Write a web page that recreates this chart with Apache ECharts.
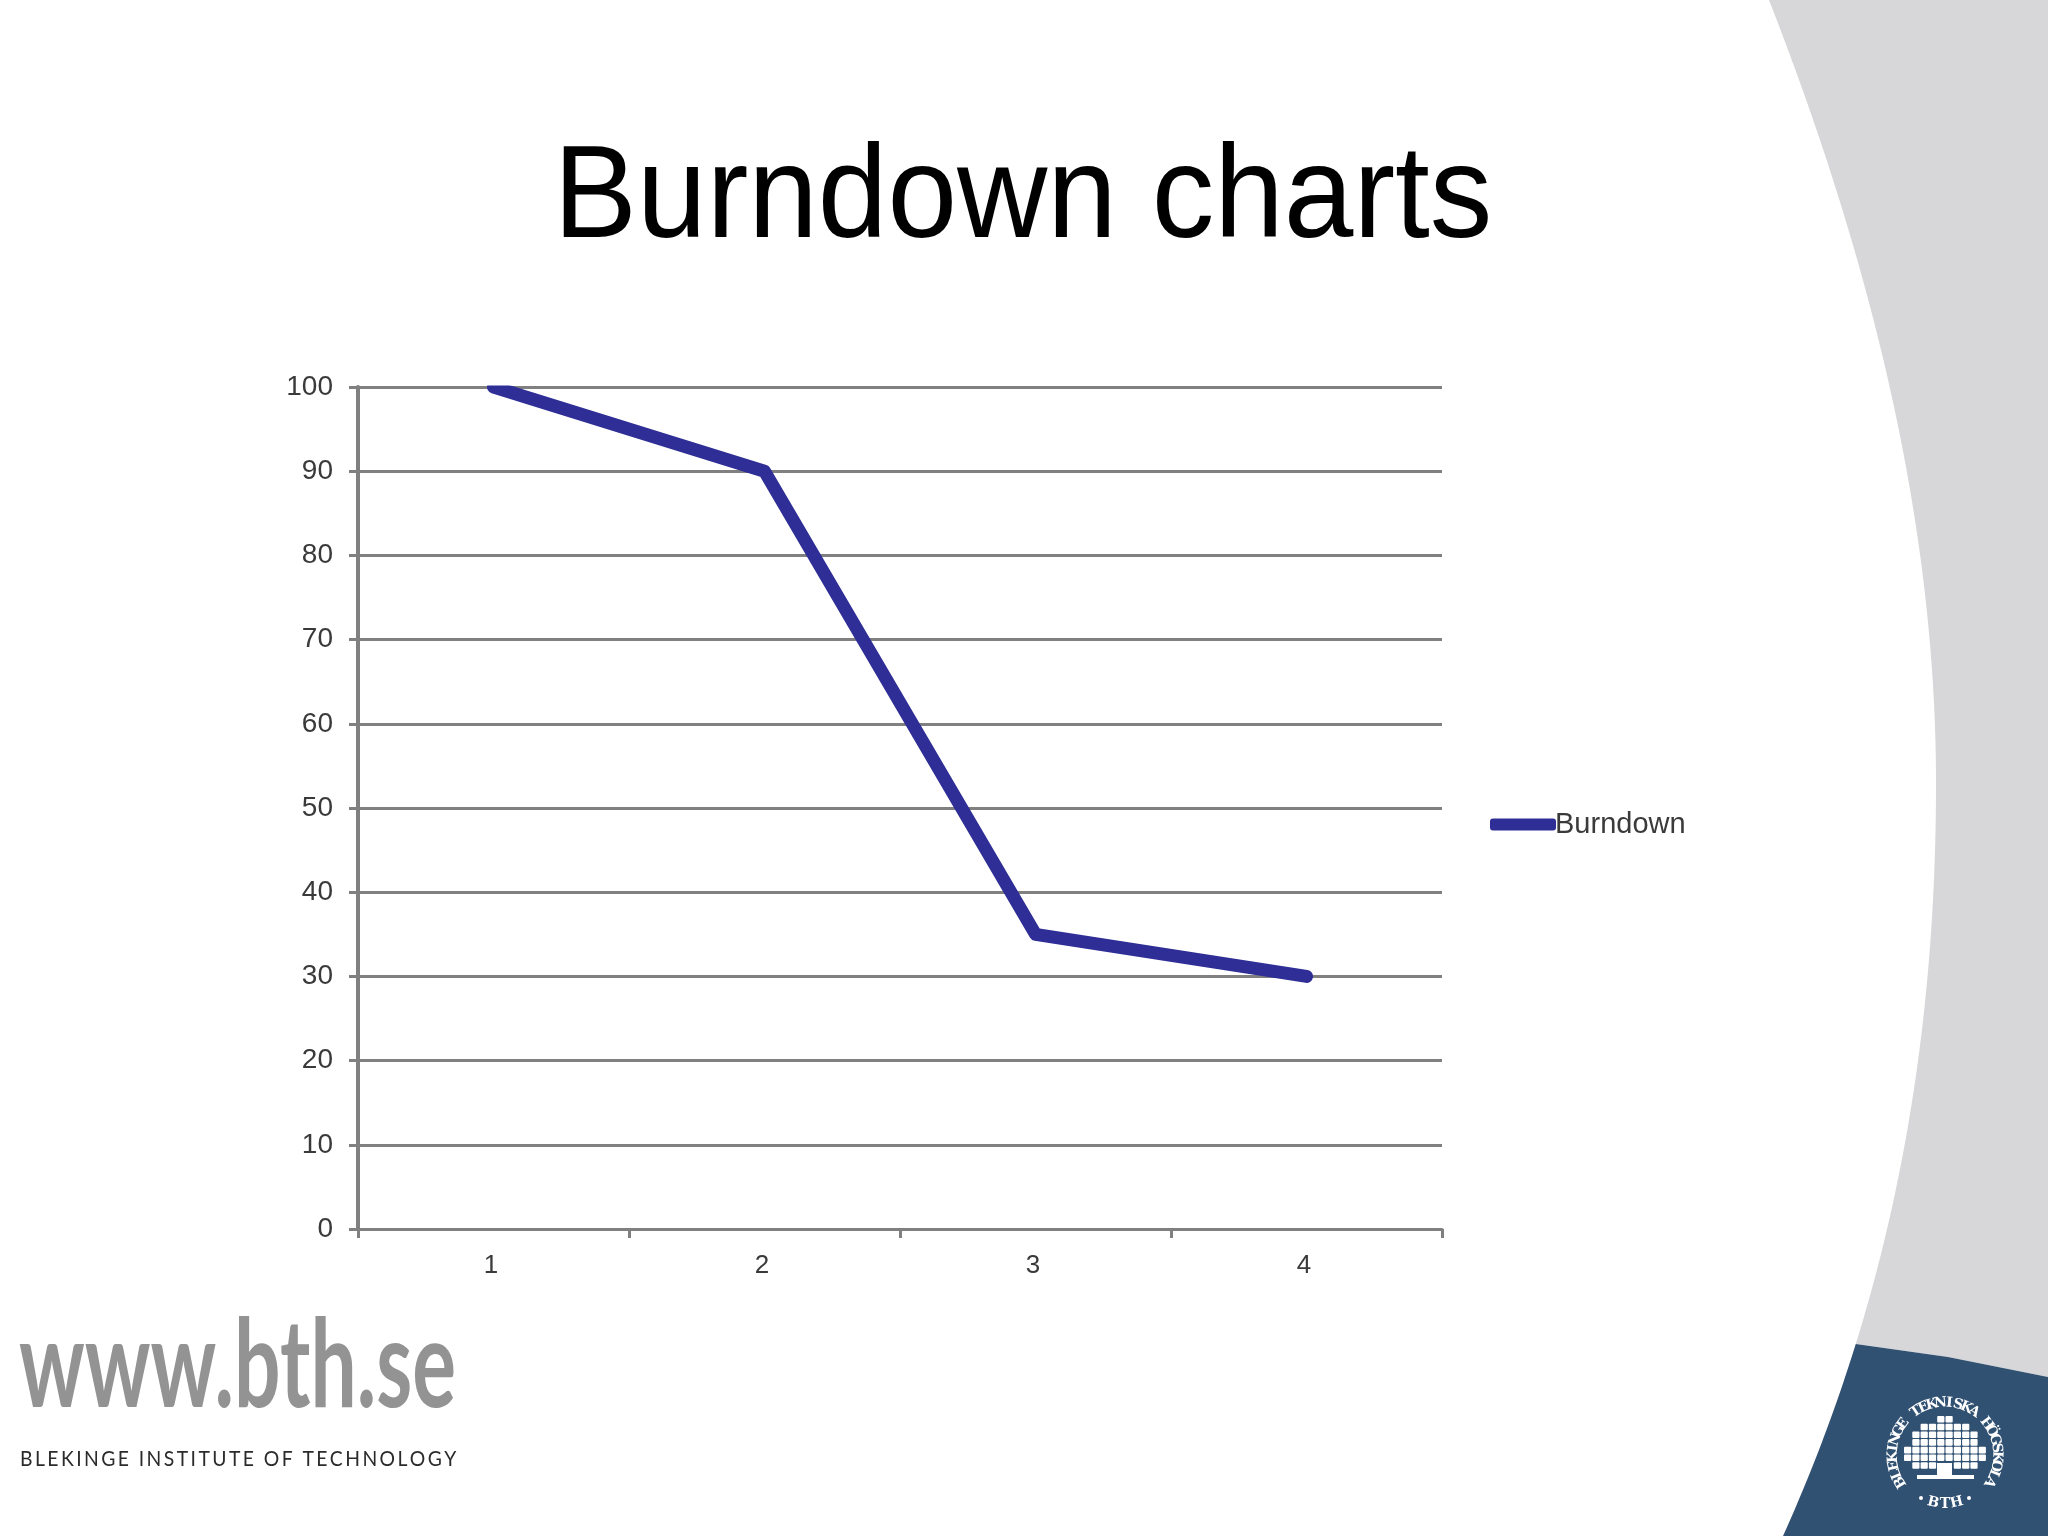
<!DOCTYPE html>
<html><head><meta charset="utf-8">
<style>html,body{margin:0;padding:0;background:#fff}#c{width:2048px;height:1536px}</style>
<script src="https://cdn.jsdelivr.net/npm/echarts@6/dist/echarts.min.js"></script>
</head><body><div id="c"></div>
<script>
const titleText = 'Burndown charts';
const seriesName = 'Burndown';
const categories = ['1','2','3','4'];
const burndown = [100,90,35,30];
const yMin = 0, yMax = 100, yStep = 10;
const logoText = 'www.bth.se';
const logoSub = 'BLEKINGE INSTITUTE OF TECHNOLOGY';
const sealTop = 'BLEKINGE TEKNISKA HÖGSKOLA';
const sealBottom = 'BTH';
const treeRows = [2,6,8,8,10,10,8];

const GREY='#d7d7d9', BLUE='#315172', AXIS='#808080', LINE='#2e2e96';
function bez(p0,p1,p2,p3,steps){const o=[];for(let k=0;k<=steps;k++){const t=k/steps,u=1-t;
 o.push([0,1].map(j=>u*u*u*p0[j]+3*u*u*t*p1[j]+3*u*t*t*p2[j]+t*t*t*p3[j]));}return o;}
const edge=bez([1769,0],[1871,261],[1936,523],[1936,783],200).concat(bez([1936,783],[1936,1034],[1896,1285],[1783,1536],200).slice(1));
const iCorner=edge.findIndex(q=>q[1]>=1342);
const blueTop=[[1948,1357],[2048,1377]];
const g=[];
g.push({type:'polygon',z:-5,silent:true,shape:{points:edge.slice(0,iCorner+1).concat(blueTop,[[2048,0]])},style:{fill:GREY}});
g.push({type:'polygon',z:-4,silent:true,shape:{points:edge.slice(iCorner).concat([[2048,1536]],blueTop.slice().reverse())},style:{fill:BLUE}});
// mask that trims the thick line at the plot's top edge, as in the reference
g.push({type:'rect',z:9,silent:true,shape:{x:440,y:368,width:110,height:17.5},style:{fill:'#fff'}});
// title
g.push({type:'text',z:5,x:1023,y:266,scaleX:.955,style:{text:titleText,font:'131px "Liberation Sans"',fill:'#000',align:'center',verticalAlign:'bottom'}});
// logo
g.push({type:'text',z:5,x:19,y:1429,scaleX:.672,style:{text:logoText,font:'bold 122px Lato',fill:'#939393',verticalAlign:'bottom'}});
g.push({type:'text',z:5,x:20,y:1448,scaleX:.88,style:{text:logoSub.split('').join('\u2009'),font:'22px Lato',fill:'#2b2b2b',verticalAlign:'top'}});
// seal
const cx=1945,cy=1455;
const sealFont='bold 14px "DejaVu Serif"';
const n=sealTop.length, span=252;
sealTop.split('').forEach((ch,i)=>{const a=(-span/2+span*(i+.5)/n)*Math.PI/180,r=52;
 g.push({type:'text',z:6,x:cx+r*Math.sin(a),y:cy-r*Math.cos(a),rotation:-a,style:{text:ch,font:sealFont,fill:'#fff',align:'center',verticalAlign:'middle'}});});
sealBottom.split('').forEach((ch,i)=>{const a=(i-1)*14*Math.PI/180,r=49;
 g.push({type:'text',z:6,x:cx+r*Math.sin(a),y:cy+r*Math.cos(a),rotation:a,style:{text:ch,font:sealFont,fill:'#fff',align:'center',verticalAlign:'middle'}});});
[-1,1].forEach(s=>g.push({type:'circle',z:6,shape:{cx:cx+s*24,cy:cy+43,r:2},style:{fill:'#fff'}}));
treeRows.forEach((count,ri)=>{const y=cy-39+ri*7.7;
 for(let i=0;i<count;i++){const x0=cx-count*8.3/2+i*8.3;
  if(ri===6&&i>=3&&i<=4)continue;
  g.push({type:'rect',z:6,shape:{x:x0+.5,y:y,width:7.2,height:6.6,r:1},style:{fill:'#fff'}});}
});
g.push({type:'rect',z:6,shape:{x:cx-8,y:cy+8,width:15,height:14},style:{fill:'#fff'}});
g.push({type:'rect',z:6,shape:{x:cx-28,y:cy+20,width:57,height:4},style:{fill:'#fff'}});

const chart=echarts.init(document.getElementById('c'),null,{renderer:'canvas'});
chart.setOption({
 animation:false,backgroundColor:'#ffffff',
 legend:{show:true,left:1485,top:805,orient:'vertical',itemWidth:66,itemHeight:12,data:[{name:seriesName,icon:'roundRect'}],
  itemStyle:{color:LINE},lineStyle:{width:0},
  textStyle:{fontFamily:'Liberation Sans',fontSize:29,color:'#3a3a3a',padding:[4,0,0,-6]}},
 grid:{left:358,top:387,width:1084,height:842,containLabel:false},
 xAxis:{type:'category',data:categories,boundaryGap:true,
  axisLine:{show:true,lineStyle:{color:AXIS,width:3}},
  axisTick:{show:true,alignWithLabel:false,length:9,lineStyle:{color:AXIS,width:3}},
  axisLabel:{margin:24,fontFamily:'Liberation Sans',fontSize:26,color:'#3a3a3a',padding:[0,5,0,0]},splitLine:{show:false}},
 yAxis:{type:'value',min:yMin,max:yMax,interval:yStep,
  axisLine:{show:true,lineStyle:{color:AXIS,width:4}},
  axisTick:{show:true,length:9,lineStyle:{color:AXIS,width:3}},
  axisLabel:{margin:25,fontFamily:'Liberation Sans',fontSize:28,color:'#3a3a3a',padding:[7,0,0,0]},
  splitLine:{show:true,lineStyle:{color:AXIS,width:3,type:'solid'}}},
 series:[{name:seriesName,type:'line',data:burndown,symbol:'none',smooth:false,clip:true,z:5,
  lineStyle:{color:LINE,width:13,cap:'round',join:'round'},itemStyle:{color:LINE}}],
 graphic:{elements:g}
});
</script></body></html>
